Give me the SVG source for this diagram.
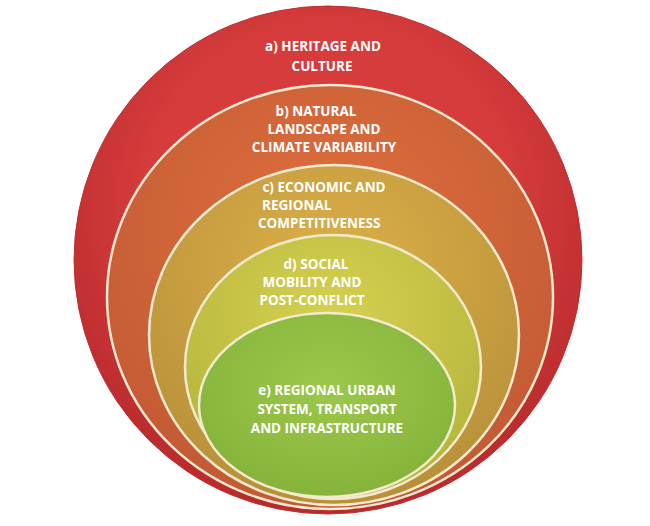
<svg xmlns="http://www.w3.org/2000/svg" width="650" height="526" viewBox="0 0 650 526">
<defs>
<radialGradient id="gA" cx="0.5" cy="0.4" r="0.6"><stop offset="0.6" stop-color="#d63c3c"/><stop offset="1" stop-color="#b82a2c"/></radialGradient>
<radialGradient id="gB" cx="0.5" cy="0.35" r="0.65"><stop offset="0" stop-color="#e0703e"/><stop offset="1" stop-color="#c25a34"/></radialGradient>
<radialGradient id="gC" cx="0.5" cy="0.3" r="0.7"><stop offset="0" stop-color="#dcb048"/><stop offset="1" stop-color="#b8903a"/></radialGradient>
<radialGradient id="gD" cx="0.5" cy="0.3" r="0.7"><stop offset="0" stop-color="#d6d050"/><stop offset="1" stop-color="#b4b43c"/></radialGradient>
<radialGradient id="gE" cx="0.5" cy="0.4" r="0.65"><stop offset="0" stop-color="#9cc84a"/><stop offset="1" stop-color="#84b23a"/></radialGradient>
</defs>
<style>
.r{stroke:#f4ead0;stroke-width:2.5}
.t{font-family:"Open Sans","Liberation Sans",sans-serif;font-weight:bold;font-size:13.5px;fill:#fff;text-anchor:middle}
.s{text-anchor:start}
</style>
<rect width="650" height="526" fill="#fff"/>
<g id="a"><circle cx="328" cy="260" r="254" fill="url(#gA)" stroke="#c0302f" stroke-width="1"/>
<text class="t" x="323" y="51">a) HERITAGE AND</text><text class="t" x="322" y="71">CULTURE</text></g>
<g id="b"><ellipse cx="330" cy="297" rx="223" ry="212" fill="url(#gB)" class="r"/>
<text class="t" x="316" y="116">b) NATURAL</text><text class="t" x="324" y="134">LANDSCAPE AND</text><text class="t" x="324" y="152">CLIMATE VARIABILITY</text></g>
<g id="c"><ellipse cx="334" cy="335" rx="185" ry="170" fill="url(#gC)" class="r"/>
<text class="t" x="324" y="192">c) ECONOMIC AND</text><text class="t s" x="262" y="210">REGIONAL</text><text class="t s" x="258" y="228">COMPETITIVENESS</text></g>
<g id="d"><ellipse cx="333" cy="367" rx="148" ry="132" fill="url(#gD)" class="r"/>
<text class="t" x="316" y="269">d) SOCIAL</text><text class="t" x="312" y="287">MOBILITY AND</text><text class="t" x="312" y="305">POST-CONFLICT</text></g>
<g id="e"><ellipse cx="327" cy="405" rx="128" ry="92" fill="url(#gE)" class="r"/>
<text class="t" x="327" y="395">e) REGIONAL URBAN</text><text class="t" x="327" y="414">SYSTEM, TRANSPORT</text><text class="t" x="327" y="433">AND INFRASTRUCTURE</text></g>
</svg>
